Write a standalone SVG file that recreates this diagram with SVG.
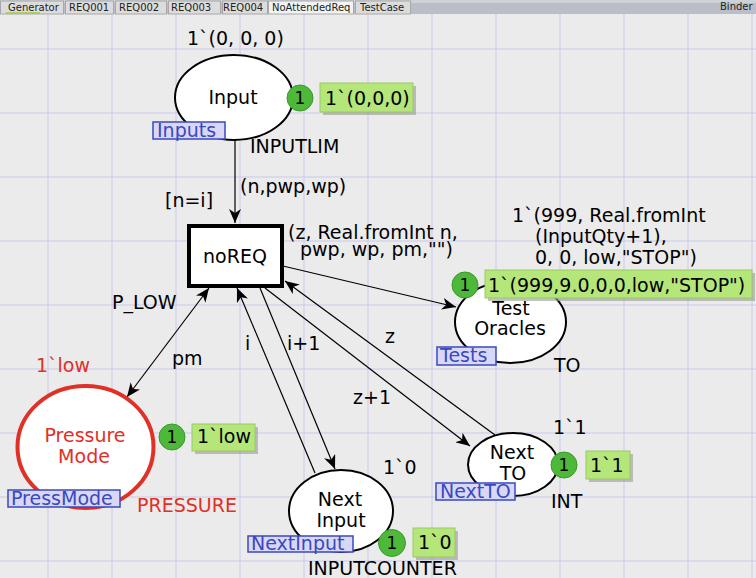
<svg xmlns="http://www.w3.org/2000/svg" width="756" height="578" viewBox="0 0 756 578">
  <style>
    text { font-family: "DejaVu Sans", Verdana, sans-serif; font-size: 19px; fill: #000; }
    .tab { font-size: 10px; fill: #222; }
    .red { fill: #e03028; }
    .lbl { fill: #3a48c0; }
    .cnt { font-size: 17px; }
    .place { fill: #fff; stroke: #000; stroke-width: 2; }
    .grid line { stroke: #c9c9ee; stroke-width: 1; }
    .arc { stroke: #000; stroke-width: 1.2; fill: none; marker-end: url(#head); }
    .tokc { fill: #4eb83a; stroke: #3a9a2a; stroke-width: 1; }
    .tokb { fill: #b4e67a; stroke: #9cc866; stroke-width: 1; }
    .shadow { fill: #9a9a9a; opacity: 0.6; }
    .tag { fill: #d8d8f6; stroke: #3a48c0; stroke-width: 1.5; }
  </style>
  <defs>
    <marker id="head" viewBox="0 0 14 12" refX="14" refY="6" markerWidth="14" markerHeight="12" markerUnits="userSpaceOnUse" orient="auto-start-reverse">
      <path d="M0,0 L14,6 L0,12 L4,6 Z" fill="#000"/>
    </marker>
  </defs>

  <!-- canvas -->
  <rect x="0" y="0" width="756" height="578" fill="#ebebeb"/>
  <g class="grid">
    <line x1="48" y1="14" x2="48" y2="578"/><line x1="112" y1="14" x2="112" y2="578"/>
    <line x1="176" y1="14" x2="176" y2="578"/><line x1="240" y1="14" x2="240" y2="578"/>
    <line x1="304" y1="14" x2="304" y2="578"/><line x1="368" y1="14" x2="368" y2="578"/>
    <line x1="432" y1="14" x2="432" y2="578"/><line x1="496" y1="14" x2="496" y2="578"/>
    <line x1="560" y1="14" x2="560" y2="578"/><line x1="624" y1="14" x2="624" y2="578"/>
    <line x1="688" y1="14" x2="688" y2="578"/><line x1="752" y1="14" x2="752" y2="578"/>
    <line x1="0" y1="49" x2="756" y2="49"/><line x1="0" y1="113" x2="756" y2="113"/>
    <line x1="0" y1="177" x2="756" y2="177"/><line x1="0" y1="241" x2="756" y2="241"/>
    <line x1="0" y1="305" x2="756" y2="305"/><line x1="0" y1="369" x2="756" y2="369"/>
    <line x1="0" y1="433" x2="756" y2="433"/><line x1="0" y1="497" x2="756" y2="497"/>
    <line x1="0" y1="561" x2="756" y2="561"/>
  </g>

  <!-- tab bar -->
  <g id="tabs">
    <rect x="0" y="0" width="756" height="14" fill="#b9bec8"/>
    <rect x="0" y="0" width="756" height="3" fill="#cdd1d8"/>
    <rect x="0.5" y="1" width="63" height="13" fill="#dcdcdc" stroke="#a8a8a8"/>
    <line x1="6" y1="13" x2="40" y2="13" stroke="#9ccc3c" stroke-width="1.5"/>
    <text class="tab" x="8" y="11">Generator</text>
    <rect x="65.5" y="1" width="48" height="13" fill="#dcdcdc" stroke="#a8a8a8"/>
    <text class="tab" x="69" y="11">REQ001</text>
    <rect x="115.5" y="1" width="51" height="13" fill="#dcdcdc" stroke="#a8a8a8"/>
    <text class="tab" x="119" y="11">REQ002</text>
    <rect x="168.5" y="1" width="52" height="13" fill="#dcdcdc" stroke="#a8a8a8"/>
    <text class="tab" x="171" y="11">REQ003</text>
    <rect x="222.5" y="1" width="45" height="13" fill="#dcdcdc" stroke="#a8a8a8"/>
    <text class="tab" x="223" y="11">REQ004</text>
    <rect x="268.5" y="1" width="85" height="13" fill="#f2f2f2" stroke="#a8a8a8"/>
    <text class="tab" x="272" y="11">NoAttendedReq</text>
    <rect x="355.5" y="1" width="55" height="13" fill="#dcdcdc" stroke="#a8a8a8"/>
    <text class="tab" x="360" y="11">TestCase</text>
    <text class="tab" x="720" y="10">Binder </text>
  </g>

  <!-- arcs -->
  <g id="arcs">
    <line class="arc" x1="235" y1="140" x2="235" y2="223"/>
    <line class="arc" x1="209" y1="288" x2="127" y2="397" style="marker-start:url(#head)"/>
    <line class="arc" x1="283" y1="266" x2="456" y2="307"/>
    <line class="arc" x1="495" y1="435" x2="285" y2="281"/>
    <line class="arc" x1="265" y1="288" x2="470" y2="446"/>
    <line class="arc" x1="260" y1="288" x2="335" y2="469"/>
    <line class="arc" x1="315" y1="473" x2="237" y2="288"/>
    <text x="165" y="207">[n=i]</text>
    <text x="240" y="193">(n,pwp,wp)</text>
    <text x="288" y="239">(z, Real.fromInt n,</text>
    <text x="300" y="256">pwp, wp, pm,"")</text>
    <text x="112" y="309">P_LOW</text>
    <text x="172" y="365">pm</text>
    <text x="245" y="350">i</text>
    <text x="287" y="350">i+1</text>
    <text x="385" y="343">z</text>
    <text x="353" y="404">z+1</text>
  </g>

  <!-- transition -->
  <g id="noREQ">
    <rect x="189" y="226" width="93" height="60" fill="#fff" stroke="#000" stroke-width="4"/>
    <text x="235" y="263" text-anchor="middle">noREQ</text>
  </g>

  <!-- places -->
  <g id="Input">
    <text x="187" y="45">1`(0, 0, 0)</text>
    <ellipse class="place" cx="234" cy="97.5" rx="59" ry="42.5"/>
    <text x="233" y="104" text-anchor="middle">Input</text>
    <rect class="tag" x="153" y="122" width="72" height="17"/>
    <text class="lbl" x="157" y="137">Inputs</text>
    <text x="250" y="153">INPUTLIM</text>
    <circle class="tokc" cx="300" cy="98" r="13"/>
    <text class="cnt" x="300" y="104" text-anchor="middle">1</text>
    <rect class="shadow" x="323" y="86" width="93" height="29"/>
    <rect class="tokb" x="320" y="83" width="93" height="29"/>
    <text x="325" y="105">1`(0,0,0)</text>
  </g>

  <g id="TestOracles">
    <text x="512" y="222">1`(999, Real.fromInt</text>
    <text x="535" y="243">(InputQty+1),</text>
    <text x="535" y="264">0, 0, low,"STOP")</text>
    <ellipse class="place" cx="510.5" cy="322" rx="55.5" ry="41"/>
    <text x="511" y="315" text-anchor="middle">Test</text>
    <text x="510" y="335" text-anchor="middle">Oracles</text>
    <rect class="tag" x="437" y="347" width="59" height="18"/>
    <text class="lbl" x="440" y="362">Tests</text>
    <text x="554" y="372">TO</text>
    <circle class="tokc" cx="465" cy="285" r="13"/>
    <text class="cnt" x="465" y="291" text-anchor="middle">1</text>
    <rect class="shadow" x="488" y="273" width="267" height="28"/>
    <rect class="tokb" x="485" y="270" width="267" height="28"/>
    <text x="488" y="292">1`(999,9.0,0,0,low,"STOP")</text>
  </g>

  <g id="PressureMode">
    <text class="red" x="36" y="372">1`low</text>
    <ellipse cx="85.5" cy="447" rx="68" ry="61" fill="#fff" stroke="#e03028" stroke-width="4"/>
    <text class="red" x="85" y="442" text-anchor="middle">Pressure</text>
    <text class="red" x="84" y="463" text-anchor="middle">Mode</text>
    <rect class="tag" x="8" y="490" width="112" height="17"/>
    <text class="lbl" x="11" y="505">PressMode</text>
    <text class="red" x="137" y="512">PRESSURE</text>
    <circle class="tokc" cx="172" cy="437" r="13"/>
    <text class="cnt" x="172" y="443" text-anchor="middle">1</text>
    <rect class="shadow" x="195" y="427" width="63" height="27"/>
    <rect class="tokb" x="192" y="424" width="63" height="27"/>
    <text x="197" y="443">1`low</text>
  </g>

  <g id="NextInput">
    <text x="383" y="474">1`0</text>
    <ellipse class="place" cx="341" cy="511" rx="52" ry="41"/>
    <text x="340" y="506" text-anchor="middle">Next</text>
    <text x="341" y="527" text-anchor="middle">Input</text>
    <rect class="tag" x="248" y="536" width="105" height="16"/>
    <text class="lbl" x="251" y="550">NextInput</text>
    <text x="308" y="575">INPUTCOUNTER</text>
    <circle class="tokc" cx="392" cy="543" r="13.5"/>
    <text class="cnt" x="392" y="549" text-anchor="middle">1</text>
    <rect class="shadow" x="416" y="531" width="42" height="29"/>
    <rect class="tokb" x="413" y="528" width="42" height="29"/>
    <text x="418" y="549">1`0</text>
  </g>

  <g id="NextTO">
    <text x="553" y="434">1`1</text>
    <ellipse class="place" cx="513" cy="464.5" rx="45" ry="31.5"/>
    <text x="512" y="459" text-anchor="middle">Next</text>
    <text x="513" y="480" text-anchor="middle">TO</text>
    <rect class="tag" x="436" y="483" width="79" height="17"/>
    <text class="lbl" x="440" y="498">NextTO</text>
    <text x="551" y="508">INT</text>
    <circle class="tokc" cx="564" cy="465" r="13"/>
    <text class="cnt" x="564" y="471" text-anchor="middle">1</text>
    <rect class="shadow" x="589" y="454" width="44" height="28"/>
    <rect class="tokb" x="586" y="451" width="44" height="28"/>
    <text x="590" y="472">1`1</text>
  </g>
</svg>
